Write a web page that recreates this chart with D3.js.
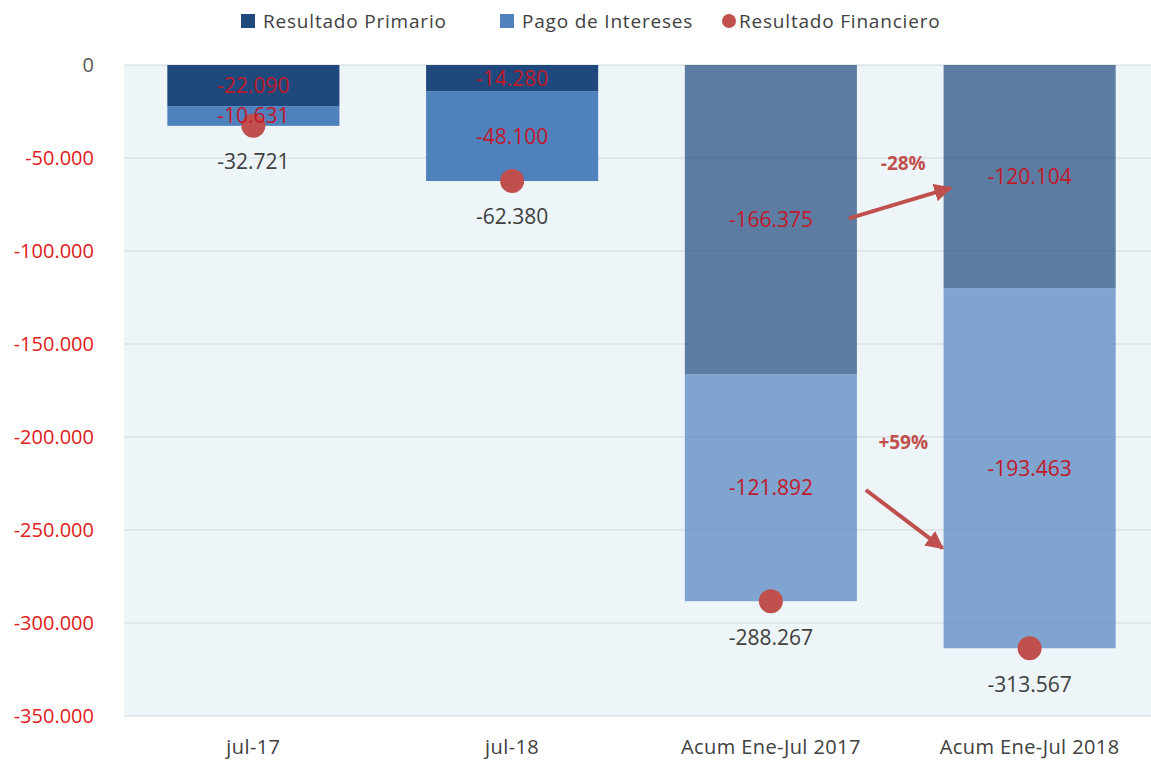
<!DOCTYPE html>
<html>
<head>
<meta charset="utf-8">
<script src="https://cdn.jsdelivr.net/npm/d3@7"></script>
<style>
  body { margin: 0; background: #fff; }
  text { font-family: "Open Sans", "Noto Sans", sans-serif; }
</style>
</head>
<body>
<svg id="drawing_region"></svg>
<script>
const categories = ["jul-17", "jul-18", "Acum Ene-Jul 2017", "Acum Ene-Jul 2018"];
const primario   = [-22090, -14280, -166375, -120104];
const intereses  = [-10631, -48100, -121892, -193463];
const financiero = [-32721, -62380, -288267, -313567];
const yTicks = [0, -50000, -100000, -150000, -200000, -250000, -300000, -350000];
const seriesNames = ["Resultado Primario", "Pago de Intereses", "Resultado Financiero"];
// variaciones acumuladas: etiqueta, valor de inicio y fin de la flecha
const variaciones = ["-28%", "+59%"];
const flechaDesde = [-82500, -228500];
const flechaHasta = [-66100, -259700];
const etiquetaY   = [-52700, -202700];

const W = 1151, H = 760;
const margin = {top: 65, right: -8, bottom: 44, left: 124};
const inner_w = W - margin.left - margin.right;
const inner_h = H - margin.top - margin.bottom;

const loc = d3.formatLocale({decimal: ",", thousands: ".", grouping: [3], currency: ["", ""], minus: "-"});
const fmt = loc.format(",d");

const svg = d3.select('#drawing_region')
    .attr('width', W)
    .attr('height', H);

const chart = svg.append('g')
    .attr('transform', `translate(${margin.left}, ${margin.top})`);

const xscale = d3.scaleBand()
    .domain(categories)
    .range([0, inner_w])
    .paddingInner(0.335)
    .paddingOuter(0.1675);

const yscale = d3.scaleLinear()
    .domain([0, -350000])
    .range([0, inner_h]);

// fondo
chart.append('rect')
    .attr('x', 0).attr('y', 0)
    .attr('width', inner_w).attr('height', inner_h)
    .attr('fill', '#edf5f8');

// grilla
chart.selectAll('.grid')
    .data(yTicks)
    .enter()
    .append('line')
    .attr('x1', 0).attr('x2', inner_w)
    .attr('y1', d => yscale(d)).attr('y2', d => yscale(d))
    .attr('stroke', '#d4d9db')
    .attr('stroke-width', 1.2);

// eje y
const yaxis = d3.axisLeft(yscale).tickValues(yTicks).tickFormat(d => fmt(d)).tickSize(0).tickPadding(30);
const yg = chart.append('g').call(yaxis);
yg.select('.domain').remove();
yg.selectAll('text')
    .attr('font-size', '20px')
    .attr('fill', d => d === 0 ? '#595959' : '#e02020');

// eje x
const xg = chart.append('g')
    .attr('transform', `translate(0, ${inner_h})`)
    .call(d3.axisBottom(xscale).tickSize(0).tickPadding(24));
xg.select('.domain').remove();
xg.selectAll('text')
    .attr('font-size', '20px')
    .attr('letter-spacing', '0.4px')
    .attr('fill', '#404040');

const data = categories.map((c, i) => ({
    cat: c, p: primario[i], q: intereses[i], t: financiero[i], acum: i >= 2
}));

// barras
chart.selectAll('.bar-p')
    .data(data)
    .enter()
    .append('rect')
    .attr('x', d => xscale(d.cat))
    .attr('y', yscale(0))
    .attr('width', xscale.bandwidth())
    .attr('height', d => yscale(d.p) - yscale(0))
    .attr('fill', '#1f497d')
    .attr('fill-opacity', d => d.acum ? 0.7 : 1);

chart.selectAll('.bar-q')
    .data(data)
    .enter()
    .append('rect')
    .attr('x', d => xscale(d.cat))
    .attr('y', d => yscale(d.p))
    .attr('width', xscale.bandwidth())
    .attr('height', d => yscale(d.p + d.q) - yscale(d.p))
    .attr('fill', '#4f81bd')
    .attr('fill-opacity', d => d.acum ? 0.7 : 1);

// puntos
chart.selectAll('circle')
    .data(data)
    .enter()
    .append('circle')
    .attr('cx', d => xscale(d.cat) + xscale.bandwidth() / 2)
    .attr('cy', d => yscale(d.t))
    .attr('r', 12)
    .attr('fill', '#c0504d');

// etiquetas de segmentos
const cx = d => xscale(d.cat) + xscale.bandwidth() / 2;
chart.selectAll('.lbl-p')
    .data(data)
    .enter()
    .append('text')
    .attr('x', cx)
    .attr('y', d => yscale(d.p / 2))
    .attr('dy', '0.35em')
    .attr('text-anchor', 'middle')
    .attr('font-size', '21px')
    .attr('fill', '#c0182a')
    .text(d => fmt(d.p));

chart.selectAll('.lbl-q')
    .data(data)
    .enter()
    .append('text')
    .attr('x', cx)
    .attr('y', d => yscale(d.p + d.q / 2))
    .attr('dy', '0.35em')
    .attr('text-anchor', 'middle')
    .attr('font-size', '21px')
    .attr('fill', '#c0182a')
    .text(d => fmt(d.q));

chart.selectAll('.lbl-t')
    .data(data)
    .enter()
    .append('text')
    .attr('x', cx)
    .attr('y', d => yscale(d.t) + 36)
    .attr('dy', '0.35em')
    .attr('text-anchor', 'middle')
    .attr('font-size', '21px')
    .attr('fill', '#404040')
    .text(d => fmt(d.t));

// flechas
svg.append('defs').append('marker')
    .attr('id', 'head')
    .attr('viewBox', '0 0 10 10')
    .attr('refX', 9).attr('refY', 5)
    .attr('markerWidth', 4.5).attr('markerHeight', 4.5)
    .attr('markerUnits', 'strokeWidth')
    .attr('orient', 'auto')
    .append('path')
    .attr('d', 'M0,0 L10,5 L0,10 Z')
    .attr('fill', '#c0504d');

const b2017 = xscale(categories[2]) + xscale.bandwidth();
const b2018 = xscale(categories[3]);
const gapMid = (b2017 + b2018) / 2;
const startX = [b2017 - 8, b2017 + 9];
const endX = [b2018 + 7, b2018 - 1];

variaciones.forEach((v, i) => {
    chart.append('line')
        .attr('x1', startX[i]).attr('y1', yscale(flechaDesde[i]))
        .attr('x2', endX[i]).attr('y2', yscale(flechaHasta[i]))
        .attr('stroke', '#c0504d')
        .attr('stroke-width', 4)
        .attr('marker-end', 'url(#head)');
    chart.append('text')
        .attr('x', gapMid + 3)
        .attr('y', yscale(etiquetaY[i]))
        .attr('dy', '0.35em')
        .attr('text-anchor', 'middle')
        .attr('font-size', '19px')
        .attr('font-weight', 'bold')
        .attr('fill', '#c0504d')
        .text(v);
});

// leyenda
const legendX = [241, 500, 722];
const legend = svg.append('g');
seriesNames.forEach((s, i) => {
    const g = legend.append('g').attr('transform', `translate(${legendX[i]}, 21)`);
    if (i < 2) {
        g.append('rect').attr('x', 0).attr('y', -7).attr('width', 14).attr('height', 14)
            .attr('fill', i === 0 ? '#1f497d' : '#4f81bd');
    } else {
        g.append('circle').attr('cx', 7).attr('cy', 0).attr('r', 7).attr('fill', '#c0504d');
    }
    g.append('text')
        .attr('x', i < 2 ? 22 : 17)
        .attr('dy', '0.35em')
        .attr('font-size', '19px')
        .attr('letter-spacing', '0.8px')
        .attr('fill', '#404040')
        .text(s);
});
</script>
</body>
</html>
